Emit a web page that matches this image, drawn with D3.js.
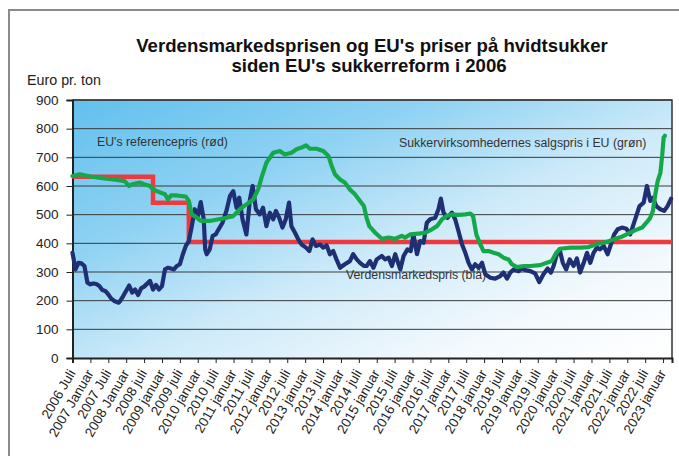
<!DOCTYPE html>
<html><head><meta charset="utf-8">
<script src="https://cdn.jsdelivr.net/npm/d3@7"></script>
<style>
html,body{margin:0;padding:0;background:#fff;}
svg{display:block;font-family:"Liberation Sans",Arial,sans-serif;}
</style></head>
<body>
<svg id="c" width="679" height="456"></svg>
<script>
// Months since 2006 July
const tickMonths = d3.range(0, 199, 6);
const tickLabels = ["2006 Juli","2007 Januar","2007 Juli","2008 Januar","2008 juli","2009 januar","2009 juli","2010 januar","2010 juli","2011 januar","2011 juli","2012 januar","2012 juli","2013 januar","2013 juli","2014 januar","2014 juli","2015 januar","2015 juli","2016 januar","2016 juli","2017 januar","2017 juli","2018 januar","2018 juli","2019 januar","2019 juli","2020 januar","2020 juli","2021 januar","2021 juli","2022 januar","2022 juli","2023 januar"];
const yTicks = [0,100,200,300,400,500,600,700,800,900];

// EU reference price: start/end month and value of each step
const refStart = [0, 27, 39];
const refEnd = [27, 39, 201];
const refValue = [631.9, 541.5, 404.4];

// World market price (blue): [month, euro/ton]
const worldPrice = [[0,367],[1,309],[2,332],[3,330],[4,321],[5,263],[6,257],[7,260],[8,258],[9,251],[10,237],[11,234],[12,222],[13,207],[14,199],[15.5,193],[16,199],[17,216],[19,253],[20,228],[21,239],[22,220],[23,243],[24,249],[26,269],[27,239],[28,255],[29,239],[30,251],[31,309],[32,315],[33,312],[34,309],[35,321],[36,327],[37,362],[38,391],[39,408],[40,460],[41,519],[42,495],[43,544],[44,484],[44.5,379],[45,362],[46,379],[47,426],[48,431],[49,449],[50.3,472],[51.6,513],[52.8,565],[53.9,582],[55,524],[55.9,559],[57,484],[58.3,431],[59.5,553],[60.4,600],[61.5,519],[62.8,501],[63.9,524],[65,460],[66.2,507],[67.3,484],[68.2,513],[69.3,489],[70.4,455],[71.5,484],[72.6,542],[73.4,460],[74.6,437],[75.7,414],[76.8,396],[78.3,385],[79.4,373],[80.5,414],[81.6,391],[83,396],[84.1,385],[85.2,393],[86.3,362],[87.4,373],[88.5,344],[89.7,315],[91.3,327],[93,338],[94.1,362],[95.3,344],[96.4,332],[97.7,321],[98.6,321],[99.7,338],[100.9,315],[102,344],[103.7,356],[104.8,344],[106,350],[107.1,321],[108.2,362],[109.9,309],[111,356],[112.3,379],[113.4,373],[114.3,431],[115.5,362],[116.6,408],[117.7,402],[118.8,472],[119.9,484],[121.6,489],[122.7,519],[123.5,556],[124.4,507],[125.7,489],[127.2,507],[128.3,484],[129.4,443],[130.6,396],[131.7,367],[132.8,332],[133.9,309],[135,327],[136.2,315],[137.3,332],[138.4,292],[140.1,280],[141.7,277],[143.4,286],[144.5,298],[145.7,277],[146.8,298],[147.9,309],[149.6,303],[150.5,312],[151.8,307],[153.5,303],[155.1,295],[156.5,265],[157.9,292],[159.3,312],[160.4,298],[161.3,321],[162.4,362],[163.3,379],[164.4,332],[165.5,309],[166.7,344],[168,321],[169.1,347],[170.2,298],[171.4,332],[172.5,367],[173.6,332],[174.7,367],[175.8,385],[176.9,379],[178.1,391],[179.4,362],[180.5,396],[181.6,431],[182.8,449],[184.2,455],[185.7,451],[187,431],[187.9,460],[189,495],[190.1,530],[191.5,542],[192.6,600],[193.7,548],[194.6,559],[195.7,530],[197.1,519],[198.4,513],[199.5,530],[200.7,556]];

// EU producers' selling price (green): [month, euro/ton]
const euSalesPrice = [[0,635],[2.5,641],[6,633],[10,627],[15,621],[17.5,617],[19,600],[20,606],[22.5,612],[24,606],[26,600],[27,588],[29,579],[31,571],[32,553],[33,567],[35,567],[38,563],[39,548],[40,501],[41,495],[43,478],[46,478],[49,484],[51.6,489],[53.9,495],[56.1,519],[58.3,536],[60.6,553],[62.3,590],[63.4,630],[65,681],[67.3,716],[69.5,722],[71.2,710],[73.4,716],[75.1,728],[76.8,734],[78.3,742],[79.6,730],[81.8,730],[84.1,722],[85.8,705],[86.9,670],[88,641],[89.7,623],[91.3,612],[93,588],[94.7,571],[96.4,548],[97.7,530],[98.6,489],[99.5,460],[101.5,437],[103.7,416],[106,420],[108.2,416],[110.4,426],[111.5,420],[113.2,431],[116,434],[118.3,437],[120.5,449],[122.2,460],[123.9,484],[125.5,495],[127.2,501],[129.4,499],[131.7,501],[133.4,504],[134.3,495],[135.4,431],[136.5,402],[137.8,373],[139.5,373],[141.2,367],[142.9,362],[144.5,350],[146.2,344],[147.3,327],[149,317],[151.3,321],[153.5,321],[156.8,324],[159,332],[160.7,338],[162.2,367],[163.5,381],[166.9,385],[170.2,385],[173,387],[174.7,393],[176.9,400],[179.2,405],[182,416],[184.2,423],[186.5,435],[188.7,446],[191,455],[192.4,472],[193.7,489],[194.6,513],[195.4,571],[196.2,617],[197.1,646],[197.7,705],[198.2,769],[198.6,775]];

const svg = d3.select("#c");
const L = 72.5, R = 672, T = 100, B = 358;
const x = d3.scaleLinear().domain([0, 201]).range([L, R]);
const y = d3.scaleLinear().domain([0, 900]).range([B, T]);
const FONT = "'Liberation Sans',Arial,sans-serif";

// outer frame
svg.append("rect").attr("x",9).attr("y",10).attr("width",700).attr("height",500)
  .attr("fill","none").attr("stroke","#8a8a8a").attr("stroke-width",2);

// gradient
const defs = svg.append("defs");
const g = defs.append("linearGradient").attr("id","bg").attr("x1",0).attr("y1",0).attr("x2",1).attr("y2",1);
g.append("stop").attr("offset",0).attr("stop-color","#62c0ee");
g.append("stop").attr("offset",0.3).attr("stop-color","#8fd2f3");
g.append("stop").attr("offset",0.55).attr("stop-color","#cdeaf9");
g.append("stop").attr("offset",0.8).attr("stop-color","#f3f9fd");
g.append("stop").attr("offset",1).attr("stop-color","#ffffff");
svg.append("rect").attr("x",L).attr("y",T).attr("width",R-L).attr("height",B-T).attr("fill","url(#bg)");

// gridlines
svg.append("g").selectAll("line").data(yTicks.filter(d=>d>0)).join("line")
  .attr("x1",L).attr("x2",R).attr("y1",d=>y(d)).attr("y2",d=>y(d))
  .attr("stroke","#3a3a3a").attr("stroke-width",1);

// border top/right
svg.append("path").attr("d",`M${L},${T}H${R}V${B}`).attr("fill","none").attr("stroke","#333").attr("stroke-width",1.5);

// y axis
const ya = svg.append("g").attr("transform",`translate(${L},0)`)
  .call(d3.axisLeft(y).tickValues(yTicks).tickSize(6).tickPadding(8));
ya.select(".domain").attr("stroke","#222").attr("stroke-width",2);
ya.selectAll(".tick line").attr("stroke","#222");
ya.selectAll("text").attr("font-size",13.5).attr("fill","#222").attr("font-family",FONT);

// x axis
const xa = svg.append("g").attr("transform",`translate(0,${B})`)
  .call(d3.axisBottom(x).tickValues(tickMonths).tickSize(5).tickFormat((d,i)=>tickLabels[i]));
xa.select(".domain").attr("stroke","#222").attr("stroke-width",2);
xa.selectAll(".tick line").attr("stroke","#222");
xa.selectAll(".tick text").attr("font-size",13.5).attr("fill","#222")
  .attr("font-family",FONT)
  .attr("text-anchor","end").attr("dy",null).attr("y",null)
  .attr("transform","translate(3,15) rotate(-60)");

// red step line
const refPts = [];
refStart.forEach((s,i)=>{ refPts.push([s, refValue[i]]); refPts.push([refEnd[i], refValue[i]]); });
svg.append("path").attr("d", d3.line().x(d=>x(d[0])).y(d=>y(d[1]))(refPts))
  .attr("fill","none").attr("stroke","#ee3a3f").attr("stroke-width",4.5).attr("stroke-linejoin","miter");

const line = d3.line().x(d=>x(d[0])).y(d=>y(d[1]));
svg.append("path").datum(worldPrice).attr("d",line)
  .attr("fill","none").attr("stroke","#1f2f73").attr("stroke-width",4.2).attr("stroke-linejoin","round").attr("stroke-linecap","round");
svg.append("path").datum(euSalesPrice).attr("d",line)
  .attr("fill","none").attr("stroke","#14a84a").attr("stroke-width",4.2).attr("stroke-linejoin","round").attr("stroke-linecap","round");

// annotations
const ann = [["EU's referencepris (rød)",97,146],["Sukkervirksomhedernes salgspris i EU (grøn)",399,147],["Verdensmarkedspris (blå)",346,279]];
svg.append("g").selectAll("text").data(ann).join("text")
  .attr("x",d=>d[1]).attr("y",d=>d[2]).text(d=>d[0])
  .attr("font-size",12.3).attr("fill","#333");

// titles
svg.append("text").attr("x",372).attr("y",52).attr("text-anchor","middle")
  .attr("font-size",18.6).attr("font-weight","bold").attr("fill","#111")
  .text("Verdensmarkedsprisen og EU's priser på hvidtsukker");
svg.append("text").attr("x",369).attr("y",72).attr("text-anchor","middle")
  .attr("font-size",18.6).attr("font-weight","bold").attr("fill","#111")
  .text("siden EU's sukkerreform i 2006");
svg.append("text").attr("x",27).attr("y",85).attr("font-size",14.3).attr("fill","#222").text("Euro pr. ton");
</script>
</body></html>
